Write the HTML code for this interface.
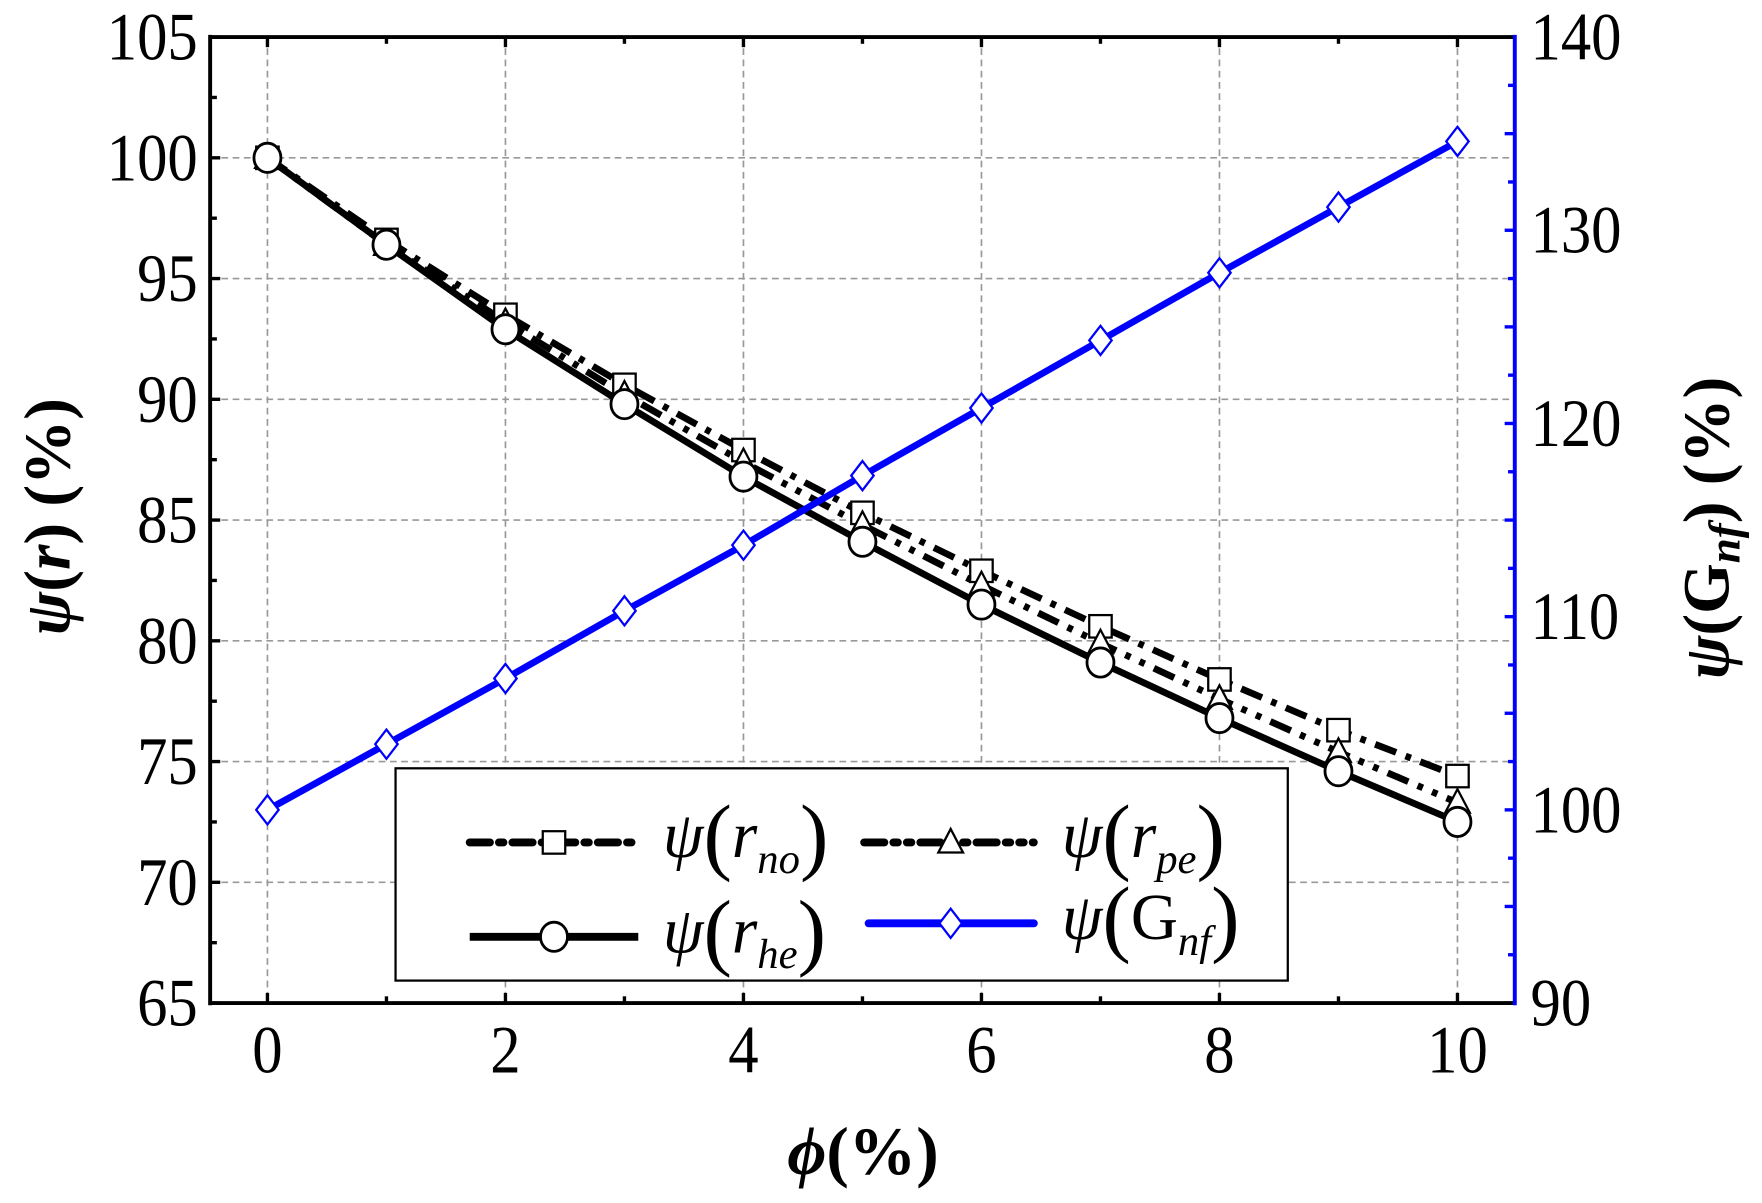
<!DOCTYPE html>
<html><head><meta charset="utf-8"><style>
html,body{margin:0;padding:0;background:#fff;}
svg{display:block}
text{font-family:"Liberation Serif",serif;}
</style></head><body>
<svg id="s" width="1762" height="1203" viewBox="0 0 1568 1071" preserveAspectRatio="none" xmlns="http://www.w3.org/2000/svg"></svg>
<script>
const s=document.getElementById('s');
let h='';
const X=i=>238+105.9*i, Y=v=>33+(105-v)*21.5, YR=v=>33+(140-v)*17.2;
for(let v=70;v<=100;v+=5)h+=`<line x1="187" x2="1348" y1="${Y(v)}" y2="${Y(v)}" stroke="#999" stroke-width="1.5" stroke-dasharray="6,4"/>`;
for(let i=0;i<=10;i+=2)h+=`<line x1="${X(i)}" x2="${X(i)}" y1="33" y2="893" stroke="#999" stroke-width="1.5" stroke-dasharray="6,4"/>`;
for(let v=65;v<=105;v+=2.5){let l=(v%5==0)?9:6;h+=`<line x1="187" x2="${187+l}" y1="${Y(v)}" y2="${Y(v)}" stroke="#000" stroke-width="3"/>`;}
for(let v=90;v<=140;v+=2.5){let l=(v%5==0)?9:6;h+=`<line x1="1348" x2="${1348-l}" y1="${YR(v)}" y2="${YR(v)}" stroke="#00f" stroke-width="3"/>`;}
for(let i=0;i<=10;i++){let l=i%2==0?9:6;h+=`<line x1="${X(i)}" x2="${X(i)}" y1="893" y2="${893-l}" stroke="#000" stroke-width="3"/><line x1="${X(i)}" x2="${X(i)}" y1="33" y2="${33+l}" stroke="#000" stroke-width="3"/>`;}
h+=`<line x1="187" x2="1348" y1="33" y2="33" stroke="#000" stroke-width="3.5"/><line x1="187" x2="1348" y1="893" y2="893" stroke="#000" stroke-width="3.5"/><line x1="187" x2="187" y1="31" y2="895" stroke="#000" stroke-width="3.5"/><line x1="1348" x2="1348" y1="31" y2="895" stroke="#00f" stroke-width="3.5"/>`;
const sc=(x)=>`transform="translate(${x} 0) scale(0.9 1) translate(${-x} 0)"`;
for(let v=65;v<=105;v+=5)h+=`<text x="176" y="${Y(v)+20}" text-anchor="end" font-size="60" ${sc(176)}>${v}</text>`;
for(let v=90;v<=140;v+=10)h+=`<text x="1362" y="${YR(v)+20}" font-size="60" ${sc(1362)}>${v}</text>`;
for(let i=0;i<=10;i+=2)h+=`<text x="${X(i)}" y="955" text-anchor="middle" font-size="60" ${sc(X(i))}>${i}</text>`;
const no=[100,96.6,93.5,90.6,87.9,85.3,82.9,80.6,78.4,76.3,74.4];
const pe=[100,96.4,93.2,90.2,87.4,84.8,82.3,79.9,77.6,75.4,73.3];
const he=[100,96.4,92.9,89.8,86.8,84.1,81.5,79.1,76.8,74.6,72.5];
const G=[100,103.4,106.8,110.3,113.7,117.3,120.8,124.3,127.8,131.2,134.6];
const pts=(a,f)=>a.map((v,i)=>`${X(i)},${f(v)}`).join(' ');
h+=`<polyline points="${pts(no,Y)}" fill="none" stroke="#000" stroke-width="6" stroke-dasharray="20,9,5,9"/>`;
h+=`<polyline points="${pts(pe,Y)}" fill="none" stroke="#000" stroke-width="6" stroke-dasharray="20,9,5,9,5,9"/>`;
h+=`<polyline points="${pts(he,Y)}" fill="none" stroke="#000" stroke-width="6"/>`;
h+=`<polyline points="${pts(G,YR)}" fill="none" stroke="#00f" stroke-width="6"/>`;
const sq=(x,y)=>`<rect x="${x-10}" y="${y-10}" width="20" height="20" fill="#fff" stroke="#000" stroke-width="2"/>`;
const tr=(x,y)=>`<polygon points="${x},${y-12} ${x-11},${y+9} ${x+11},${y+9}" fill="#fff" stroke="#000" stroke-width="2"/>`;
const ci=(x,y)=>`<ellipse cx="${x}" cy="${y}" rx="12" ry="13" fill="#fff" stroke="#000" stroke-width="2.5"/>`;
const di=(x,y)=>`<polygon points="${x},${y-13} ${x+10},${y} ${x},${y+13} ${x-10},${y}" fill="#fff" stroke="#00f" stroke-width="2"/>`;
no.forEach((v,i)=>h+=sq(X(i),Y(v)));pe.forEach((v,i)=>h+=tr(X(i),Y(v)));
he.forEach((v,i)=>h+=ci(X(i),Y(v)));G.forEach((v,i)=>h+=di(X(i),YR(v)));
h+=`<rect x="352" y="684" width="794" height="189" fill="#fff" stroke="#000" stroke-width="2"/>`;
h+=`<line x1="418" x2="568" y1="750" y2="750" stroke="#000" stroke-width="7" stroke-dasharray="18,8,4,8" stroke-linecap="round"/>`+sq(493,750);
h+=`<line x1="769" x2="920" y1="750" y2="750" stroke="#000" stroke-width="7" stroke-dasharray="18,8,4,8,4,8" stroke-linecap="round"/>`+tr(846,750);
h+=`<line x1="418" x2="568" y1="834" y2="834" stroke="#000" stroke-width="7"/>`+ci(493,834);
h+=`<line x1="773" x2="920" y1="822" y2="822" stroke="#00f" stroke-width="7" stroke-linecap="round"/>`+di(846,822);
const lab=(x,y,sub,main)=>`<text x="${x}" y="${y}" font-size="58" font-style="italic">ψ<tspan font-style="normal" font-size="76" dy="6">(</tspan><tspan dy="-6">${main}</tspan><tspan font-size="38" dy="14">${sub}</tspan><tspan font-style="normal" font-size="76" dy="-8">)</tspan></text>`;
h+=lab(590,763,'no','r')+lab(945,763,'pe','r')+lab(590,848,'he','r')+lab(945,836,'nf','<tspan font-style="normal">G</tspan>');
h+=`<text transform="translate(62 460) rotate(-90)" text-anchor="middle" font-size="58" font-weight="bold"><tspan font-style="italic">ψ</tspan>(<tspan font-style="italic">r</tspan>) (%)</text>`;
h+=`<text transform="translate(1538 470) rotate(-90)" text-anchor="middle" font-size="58" font-weight="bold"><tspan font-style="italic">ψ</tspan>(G<tspan font-size="40" font-style="italic" dy="10">nf</tspan><tspan dy="-10">)  (%)</tspan></text>`;
h+=`<text x="768" y="1045" text-anchor="middle" font-size="60" font-weight="bold"><tspan font-style="italic">ϕ</tspan>(%)</text>`;
s.innerHTML=h;
</script>
</body></html>
